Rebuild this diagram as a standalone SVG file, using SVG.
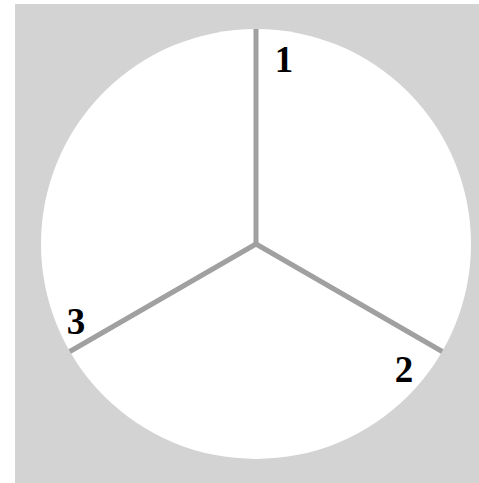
<svg xmlns="http://www.w3.org/2000/svg" width="479" height="483" viewBox="0 0 479 483">
<style>
.spoke{stroke:#a0a0a0;stroke-width:5;fill:none}
.lbl{font-family:'Liberation Serif','Times New Roman',serif;font-weight:700;font-size:37px;fill:#000;text-anchor:middle}
</style>
<rect x="15" y="4" width="464" height="479" fill="#d3d3d3"/>
<g id="disc"><circle cx="256" cy="244" r="215" fill="#fff"/></g>
<g id="connectors">
<line class="spoke" x1="256" y1="244" x2="256" y2="29"/>
<line class="spoke" x1="256" y1="244" x2="442.2" y2="351.5"/>
<line class="spoke" x1="256" y1="244" x2="69.8" y2="351.5"/>
</g>
<g id="label1"><text class="lbl" x="284" y="72">1</text></g>
<g id="label2"><text class="lbl" x="404" y="382">2</text></g>
<g id="label3"><text class="lbl" x="76" y="334">3</text></g>
</svg>
